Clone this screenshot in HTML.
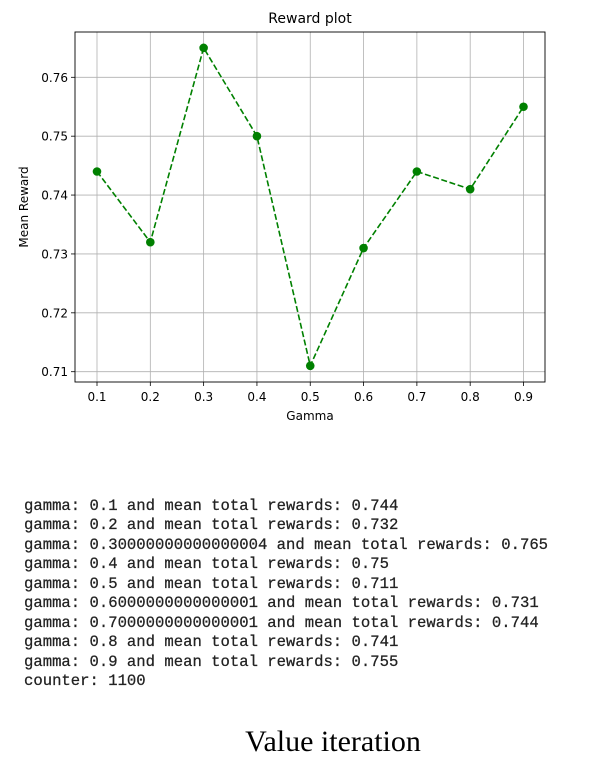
<!DOCTYPE html>
<html><head><meta charset="utf-8"><style>
body{margin:0;background:#fff;width:614px;height:784px;overflow:hidden;position:relative;font-family:"DejaVu Sans","Liberation Sans",sans-serif}
#out{position:absolute;left:24px;top:497px;font-family:"Liberation Mono",monospace;font-size:15.6px;line-height:19.45px;color:#222;white-space:pre;margin:0;-webkit-text-stroke:0.25px #222}
#cap{position:absolute;left:0;width:666px;text-align:center;top:725px;font-family:"Liberation Serif",serif;font-size:30px;color:#000}
</style></head><body>
<svg id="chart" width="614" height="430" style="position:absolute;left:0;top:0"></svg>
<pre id="out">gamma: 0.1 and mean total rewards: 0.744
gamma: 0.2 and mean total rewards: 0.732
gamma: 0.30000000000000004 and mean total rewards: 0.765
gamma: 0.4 and mean total rewards: 0.75
gamma: 0.5 and mean total rewards: 0.711
gamma: 0.6000000000000001 and mean total rewards: 0.731
gamma: 0.7000000000000001 and mean total rewards: 0.744
gamma: 0.8 and mean total rewards: 0.741
gamma: 0.9 and mean total rewards: 0.755
counter: 1100</pre>
<div id="cap">Value iteration</div>
<script>
const gammas=[0.1,0.2,0.3,0.4,0.5,0.6,0.7,0.8,0.9];
const rewards=[0.744,0.732,0.765,0.75,0.711,0.731,0.744,0.741,0.755];
const yTicks=[0.71,0.72,0.73,0.74,0.75,0.76];
const xTickLabels=["0.1","0.2","0.3","0.4","0.5","0.6","0.7","0.8","0.9"];
const NS="http://www.w3.org/2000/svg";
const svg=document.getElementById('chart');
const L=75,R=545,T=32,B=382;
const xs=g=>97+(g-0.1)/0.8*(523.5-97);
const ys=v=>371.7-(v-0.71)/0.05*(371.7-77.3);
function mk(t,a,p){const e=document.createElementNS(NS,t);for(const k in a)e.setAttribute(k,a[k]);(p||svg).appendChild(e);return e;}
gammas.forEach((g,i)=>{
 const x=xs(g);
 const gl=mk('line',{x1:x,x2:x,y1:T,y2:B,stroke:'#b0b0b0','stroke-width':0.8});
 
 
 mk('line',{x1:x,x2:x,y1:B,y2:B+4,stroke:'#000','stroke-width':0.8});
 const t=mk('text',{x:x,y:B+19,'text-anchor':'middle','font-size':12,fill:'#000'});
 t.textContent=xTickLabels[i];
 
 
});
yTicks.forEach(v=>{
 const y=ys(v);
 const gl=mk('line',{x1:L,x2:R,y1:y,y2:y,stroke:'#b0b0b0','stroke-width':0.8});
 
 
 mk('line',{x1:L-4,x2:L,y1:y,y2:y,stroke:'#000','stroke-width':0.8});
 const t=mk('text',{x:L-7,y:y+4.5,'text-anchor':'end','font-size':12,fill:'#000'});
 t.textContent=v.toFixed(2);
 
 
});
const fr=mk('rect',{x:L,y:T,width:R-L,height:B-T,fill:'none',stroke:'#000','stroke-width':0.9});


const pts=gammas.map((g,i)=>xs(g)+','+ys(rewards[i])).join(' ');
const pl=mk('polyline',{points:pts,fill:'none',stroke:'#008000','stroke-width':1.6,'stroke-dasharray':'6,2.6'});


gammas.forEach((g,i)=>{
 const c=mk('circle',{cx:xs(g),cy:ys(rewards[i]),r:4.3,fill:'#008000'});
 
 
});
const ti=mk('text',{x:310,y:23,'text-anchor':'middle','font-size':14,fill:'#000'});
ti.textContent='Reward plot';


const xl=mk('text',{x:310,y:420,'text-anchor':'middle','font-size':12,fill:'#000'});
xl.textContent='Gamma';


const yl=mk('text',{x:0,y:0,'text-anchor':'middle','font-size':12,fill:'#000',transform:'translate(28,207) rotate(-90)'});
yl.textContent='Mean Reward';


</script>
</body></html>
